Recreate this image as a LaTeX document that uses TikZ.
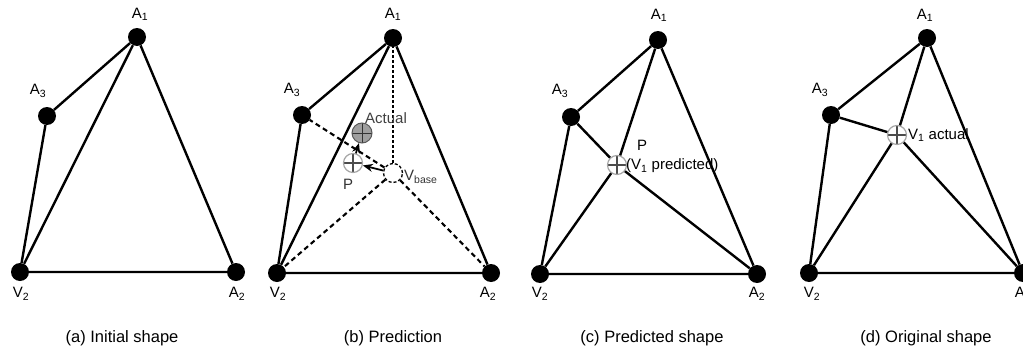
\documentclass[tikz,border=0pt]{standalone}
\usepackage{fontspec}
\setmainfont{Liberation Sans}
\usetikzlibrary{arrows.meta}
\begin{document}
\begin{tikzpicture}[x=1pt,y=-1pt,
 dot/.style={circle,fill=black,minimum size=18pt,inner sep=0pt},
 edge/.style={line width=2.4pt},
 dashedge/.style={line width=2.1pt,dash pattern=on 5pt off 3.5pt},
 dotedge/.style={line width=2.1pt,dash pattern=on 2.5pt off 2.5pt},
 lbl/.style={font=\fontsize{15}{18}\selectfont,inner sep=0pt},
 captext/.style={font=\fontsize{16.5}{19}\selectfont,inner sep=0pt},
 crossmark/.style={circle,draw=gray!70,line width=1.2pt,fill=white,minimum size=19pt,inner sep=0pt,
   path picture={\draw[gray!60!black,line width=1.2pt] (path picture bounding box.north) -- (path picture bounding box.south) (path picture bounding box.west) -- (path picture bounding box.east);}},
 actualmark/.style={circle,draw=gray!70!black,line width=1pt,fill=gray!75,minimum size=20pt,inner sep=0pt,
   path picture={\draw[gray!40!black,line width=1pt] (path picture bounding box.north) -- (path picture bounding box.south) (path picture bounding box.west) -- (path picture bounding box.east);}},
 basemark/.style={circle,draw=black,line width=1.3pt,dash pattern=on 3pt off 2pt,fill=white,minimum size=19pt,inner sep=0pt},
 arr/.style={line width=1.7pt,-{Stealth[length=10pt,width=8pt]}},
]
\useasboundingbox (0,0) rectangle (1023,356);

% ---------- (a) ----------
\node[dot] (aA1) at (137,37) {};
\node[dot] (aA3) at (47,116) {};
\node[dot] (aV2) at (20,272) {};
\node[dot] (aA2) at (236,272) {};
\draw[edge] (aA1) -- (aA3) -- (aV2) -- (aA1) -- (aA2) -- (aV2);
\node[lbl] (laA1) at (140,14) {A\textsubscript{1}};
\node[lbl] (laA3) at (38,91) {A\textsubscript{3}};
\node[lbl] (laV2) at (21,294) {V\textsubscript{2}};
\node[lbl] (laA2) at (237,294) {A\textsubscript{2}};
\node[captext] (capa) at (122,338) {(a) Initial shape};

% ---------- (b) ----------
\node[dot] (bA1) at (393,38) {};
\node[dot] (bA3) at (302,115) {};
\node[dot] (bV2) at (277,273) {};
\node[dot] (bA2) at (491,273) {};
\node[basemark] (bVb) at (393,173) {};
\node[crossmark] (bP) at (353,163) {};
\node[actualmark] (bAc) at (362,133) {};
\draw[edge] (bA1) -- (bA3) -- (bV2) -- (bA1) -- (bA2) -- (bV2);
\draw[dotedge] (bVb) -- (bA1);
\draw[dashedge] (bVb) -- (bA3);
\draw[dashedge] (bVb) -- (bV2);
\draw[dashedge] (bVb) -- (bA2);
\draw[arr] (bVb) -- (bP);
\draw[arr] (bP) -- (bAc);
\node[lbl] (lbA1) at (393,14) {A\textsubscript{1}};
\node[lbl] (lbA3) at (292,90) {A\textsubscript{3}};
\node[lbl] (lbV2) at (278,294) {V\textsubscript{2}};
\node[lbl] (lbA2) at (488,294) {A\textsubscript{2}};
\node[lbl,text=black!75] (lbAc) at (386,118) {Actual};
\node[lbl,text=black!80] (lbP) at (348,184) {P};
\node[lbl,anchor=west,text=black!80] (lbVb) at (404,177) {V\textsubscript{base}};
\node[captext] (capb) at (393,338) {(b) Prediction};

% ---------- (c) ----------
\node[dot] (cA1) at (658,40) {};
\node[dot] (cA3) at (571,117) {};
\node[dot] (cV2) at (540,274) {};
\node[dot] (cA2) at (757,274) {};
\node[crossmark] (cP) at (617,165) {};
\draw[edge] (cA1) -- (cA3) -- (cV2) -- (cA2) -- (cA1);
\draw[edge] (cA1) -- (cP);
\draw[edge] (cA3) -- (cP);
\draw[edge] (cV2) -- (cP);
\draw[edge] (cA2) -- (cP);
\node[lbl] (lcA1) at (659,15) {A\textsubscript{1}};
\node[lbl] (lcA3) at (560,91) {A\textsubscript{3}};
\node[lbl] (lcV2) at (540,294) {V\textsubscript{2}};
\node[lbl] (lcA2) at (757,294) {A\textsubscript{2}};
\node[lbl] (lcP) at (642,145) {P};
\node[lbl,anchor=west] (lcPt) at (626,166) {(V\textsubscript{1} predicted)};
\node[captext] (capc) at (652,338) {(c) Predicted shape};

% ---------- (d) ----------
\node[dot] (dA1) at (927,38) {};
\node[dot] (dA3) at (831,115) {};
\node[dot] (dV2) at (809,273) {};
\node[dot] (dA2) at (1023,273) {};
\node[crossmark] (dV1) at (897,135) {};
\draw[edge] (dA1) -- (dA3) -- (dV2) -- (dA2) -- (dA1);
\draw[edge] (dA1) -- (dV1);
\draw[edge] (dA3) -- (dV1);
\draw[edge] (dV2) -- (dV1);
\draw[edge] (dA2) -- (dV1);
\node[lbl] (ldA1) at (925,15) {A\textsubscript{1}};
\node[lbl] (ldA3) at (820,90) {A\textsubscript{3}};
\node[lbl] (ldV2) at (812,294) {V\textsubscript{2}};
\node[lbl] (ldA2) at (1023,294) {A\textsubscript{2}};
\node[lbl,anchor=west] (ldV1) at (908,135) {V\textsubscript{1} actual};
\node[captext] (capd) at (926,338) {(d) Original shape};
\end{tikzpicture}
\end{document}
